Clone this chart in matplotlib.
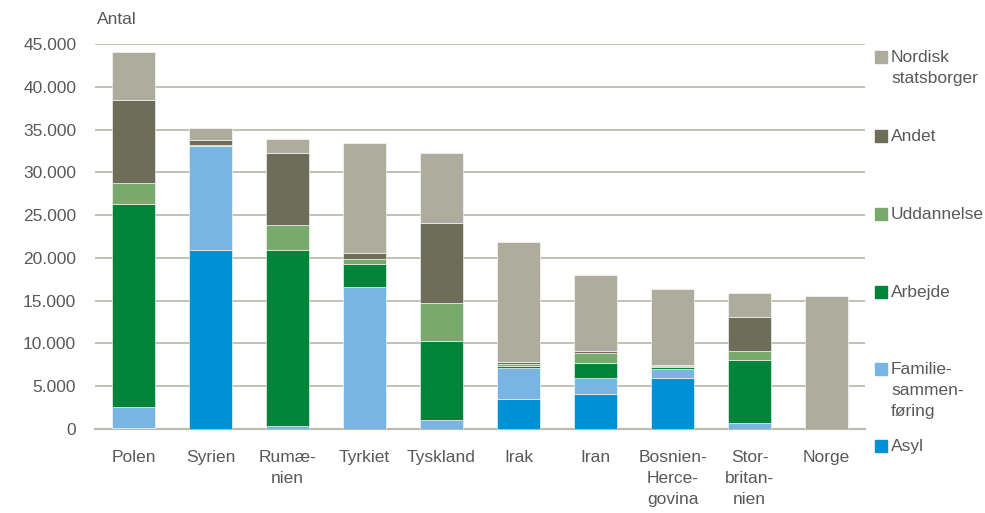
import matplotlib
matplotlib.use("Agg")
import matplotlib.pyplot as plt
import matplotlib.patches as mpatches
import numpy as np

plt.rcParams['font.family'] = ['Liberation Sans', 'DejaVu Sans']

categories = ["Polen", "Syrien", "Rumæ-\nnien", "Tyrkiet", "Tyskland", "Irak", "Iran",
              "Bosnien-\nHerce-\ngovina", "Stor-\nbritan-\nnien", "Norge"]

asyl        = [150, 20900, 30, 50, 50, 3540, 4130, 5960, 50, 0]
familie     = [2450, 12200, 320, 16570, 1000, 3620, 1830, 1010, 650, 0]
arbejde     = [23700, 30, 20600, 2700, 9230, 240, 1790, 230, 7400, 0]
uddannelse  = [2450, 30, 2950, 550, 4470, 200, 1130, 120, 1010, 0]
andet       = [9650, 600, 8400, 730, 9350, 230, 230, 160, 3970, 0]
nordisk     = [5650, 1450, 1650, 12780, 8170, 14000, 8840, 8870, 2770, 15530]

series_names = ["Asyl", "Familie-\nsammen-\nføring", "Arbejde", "Uddannelse", "Andet", "Nordisk\nstatsborger"]
series_vals = [asyl, familie, arbejde, uddannelse, andet, nordisk]
colors = ["#0090D5", "#78B5E3", "#00843A", "#78AA6E", "#6E6D5A", "#AEAC9C"]

yticks = [0, 5000, 10000, 15000, 20000, 25000, 30000, 35000, 40000, 45000]
yticklabels = ["0", "5.000", "10.000", "15.000", "20.000", "25.000", "30.000", "35.000", "40.000", "45.000"]

W, H = 985, 513
fig = plt.figure(figsize=(W/100, H/100), dpi=100)
ax = fig.add_axes([95/W, (H-429)/H, (865-95)/W, (429-44)/H])

text_col = "#595959"
grid_col = "#BDBCAE"

x = np.arange(len(categories))
bottom = np.zeros(len(categories))
for vals, col in zip(series_vals, colors):
    v = np.array(vals, dtype=float)
    ax.bar(x, v, bottom=bottom, width=0.56, color=col, edgecolor="white", linewidth=0.4, zorder=3)
    bottom += v

ax.set_xlim(-0.5, len(categories) - 0.5)
ax.set_ylim(0, 45000)
ax.set_yticks(yticks)
ax.set_yticklabels(yticklabels)
ax.set_xticks(x)
ax.set_xticklabels(categories, linespacing=1.5, va="top")
ax.tick_params(axis="both", length=0, labelsize=12.5, colors=text_col)
ax.tick_params(axis="y", pad=13.5)
ax.tick_params(axis="x", pad=15)
for lab in ax.get_yticklabels():
    lab.set_horizontalalignment("right")

ax.grid(axis="y", color=grid_col, linewidth=1.3, zorder=0)
for s in ["top", "right", "left"]:
    ax.spines[s].set_visible(False)
ax.spines["bottom"].set_color(grid_col)
ax.spines["bottom"].set_linewidth(1.6)

fig.text(97/W, 1 - 20/H, "Antal", fontsize=12.5, color=text_col, va="center", ha="left")

# Legend (manual placement, top to bottom)
legend_y = [57, 136, 214, 292, 369, 446]
order = list(range(len(series_names)))[::-1]
for yy, idx in zip(legend_y, order):
    fig.patches.append(mpatches.Rectangle((875/W, 1 - (yy + 6)/H), 12/W, 12/H,
                                          transform=fig.transFigure, color=colors[idx]))
    fig.text(891/W, 1 - (yy - 7)/H, series_names[idx], fontsize=12.5, color=text_col,
             va="top", ha="left", linespacing=1.5)

fig.savefig("out.png", dpi=100)
